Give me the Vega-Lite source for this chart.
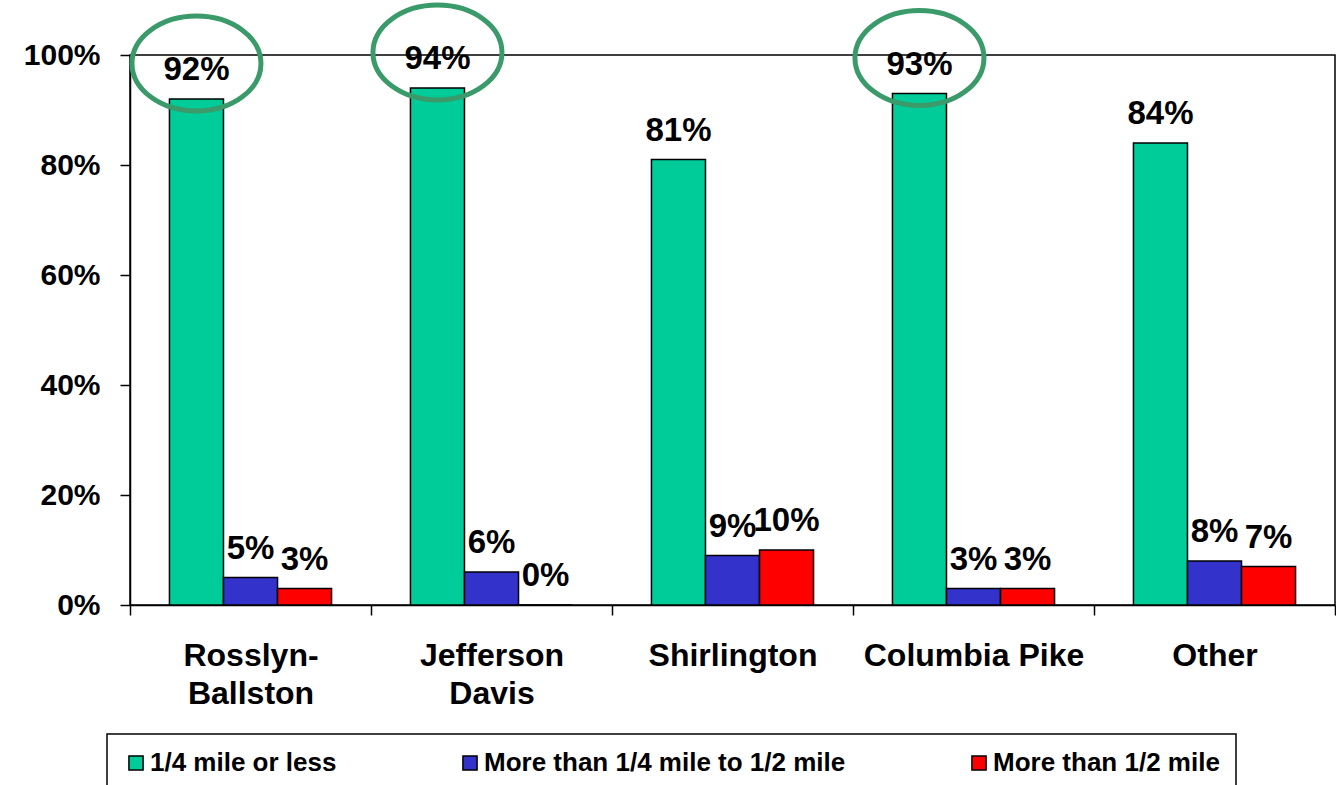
{
  "$schema": "https://vega.github.io/schema/vega-lite/v6.json",
  "width": 1205,
  "height": 550,
  "autosize": {"type": "none"},
  "padding": {"left": 130, "top": 55, "right": 1, "bottom": 180},
  "background": "white",
  "config": {
    "font": "Liberation Sans",
    "view": {"stroke": "black", "strokeWidth": 1.5}
  },
  "data": {
    "values": [
      {"area": "Rosslyn-Ballston", "distance": "1/4 mile or less", "share": 0.92, "circled": true},
      {"area": "Rosslyn-Ballston", "distance": "More than 1/4 mile to 1/2 mile", "share": 0.05, "circled": false},
      {"area": "Rosslyn-Ballston", "distance": "More than 1/2 mile", "share": 0.03, "circled": false},
      {"area": "Jefferson Davis", "distance": "1/4 mile or less", "share": 0.94, "circled": true},
      {"area": "Jefferson Davis", "distance": "More than 1/4 mile to 1/2 mile", "share": 0.06, "circled": false},
      {"area": "Jefferson Davis", "distance": "More than 1/2 mile", "share": 0.0, "circled": false},
      {"area": "Shirlington", "distance": "1/4 mile or less", "share": 0.81, "circled": false},
      {"area": "Shirlington", "distance": "More than 1/4 mile to 1/2 mile", "share": 0.09, "circled": false},
      {"area": "Shirlington", "distance": "More than 1/2 mile", "share": 0.10, "circled": false},
      {"area": "Columbia Pike", "distance": "1/4 mile or less", "share": 0.93, "circled": true},
      {"area": "Columbia Pike", "distance": "More than 1/4 mile to 1/2 mile", "share": 0.03, "circled": false},
      {"area": "Columbia Pike", "distance": "More than 1/2 mile", "share": 0.03, "circled": false},
      {"area": "Other", "distance": "1/4 mile or less", "share": 0.84, "circled": false},
      {"area": "Other", "distance": "More than 1/4 mile to 1/2 mile", "share": 0.08, "circled": false},
      {"area": "Other", "distance": "More than 1/2 mile", "share": 0.07, "circled": false}
    ]
  },
  "encoding": {
    "x": {
      "field": "area",
      "type": "nominal",
      "sort": ["Rosslyn-Ballston", "Jefferson Davis", "Shirlington", "Columbia Pike", "Other"],
      "scale": {"paddingInner": 0, "paddingOuter": 0},
      "axis": {
        "title": null,
        "labelAngle": 0,
        "tickBand": "extent",
        "domainColor": "black",
        "domainWidth": 1.5,
        "tickColor": "black",
        "tickWidth": 1.5,
        "tickSize": 10,
        "labelFont": "Liberation Sans",
        "labelFontSize": 32,
        "labelFontWeight": "bold",
        "labelColor": "black",
        "labelPadding": 25,
        "labelLineHeight": 38,
        "labelBaseline": "top",
        "labelLimit": 400,
        "labelExpr": "datum.value == 'Rosslyn-Ballston' ? ['Rosslyn-', 'Ballston'] : datum.value == 'Jefferson Davis' ? ['Jefferson', 'Davis'] : datum.label"
      }
    },
    "xOffset": {
      "field": "distance",
      "type": "nominal",
      "sort": ["1/4 mile or less", "More than 1/4 mile to 1/2 mile", "More than 1/2 mile"],
      "scale": {"paddingOuter": 0.73, "paddingInner": 0}
    },
    "y": {
      "field": "share",
      "type": "quantitative",
      "scale": {"domain": [0, 1], "nice": false},
      "axis": {
        "title": null,
        "values": [0, 0.2, 0.4, 0.6, 0.8, 1],
        "format": ".0%",
        "grid": false,
        "domainColor": "black",
        "domainWidth": 1.5,
        "tickColor": "black",
        "tickWidth": 1.5,
        "tickSize": 10,
        "labelFont": "Liberation Sans",
        "labelFontSize": 30,
        "labelFontWeight": "bold",
        "labelColor": "black",
        "labelPadding": 20
      }
    }
  },
  "layer": [
    {
      "mark": {"type": "bar", "stroke": "black", "strokeWidth": 1.5},
      "encoding": {
        "color": {
          "field": "distance",
          "type": "nominal",
          "sort": ["1/4 mile or less", "More than 1/4 mile to 1/2 mile", "More than 1/2 mile"],
          "scale": {
            "domain": ["1/4 mile or less", "More than 1/4 mile to 1/2 mile", "More than 1/2 mile"],
            "range": ["#00CC99", "#3333CC", "#FF0000"]
          },
          "legend": {
            "title": null,
            "orient": "none",
            "direction": "horizontal",
            "legendX": -23,
            "legendY": 679,
            "padding": 16,
            "strokeColor": "black",
            "symbolType": "square",
            "symbolSize": 200,
            "symbolStrokeColor": "black",
            "symbolStrokeWidth": 1.5,
            "symbolOpacity": 1,
            "labelFont": "Liberation Sans",
            "labelFontSize": 26,
            "labelFontWeight": "bold",
            "labelColor": "black",
            "labelOffset": 1,
            "labelLimit": 600,
            "columnPadding": 120,
            "encode": {"legend": {"update": {"strokeWidth": {"value": 1.5}}}}
          }
        }
      }
    },
    {
      "mark": {
        "type": "text",
        "baseline": "alphabetic",
        "dy": -19,
        "font": "Liberation Sans",
        "fontSize": 33,
        "fontWeight": "bold",
        "color": "black"
      },
      "encoding": {
        "text": {"field": "share", "type": "quantitative", "format": ".0%"}
      }
    },
    {
      "transform": [{"filter": "datum.circled"}],
      "mark": {
        "type": "point",
        "filled": false,
        "stroke": "#3A9A6A",
        "strokeWidth": 5,
        "opacity": 1,
        "size": 16641,
        "shape": "M -1,-0.55 C -1,-0.9565 -0.5523,-1.286 0,-1.286 C 0.5523,-1.286 1,-0.9565 1,-0.55 C 1,-0.1435 0.5523,0.186 0,0.186 C -0.5523,0.186 -1,-0.1435 -1,-0.55 Z"
      }
    }
  ]
}
